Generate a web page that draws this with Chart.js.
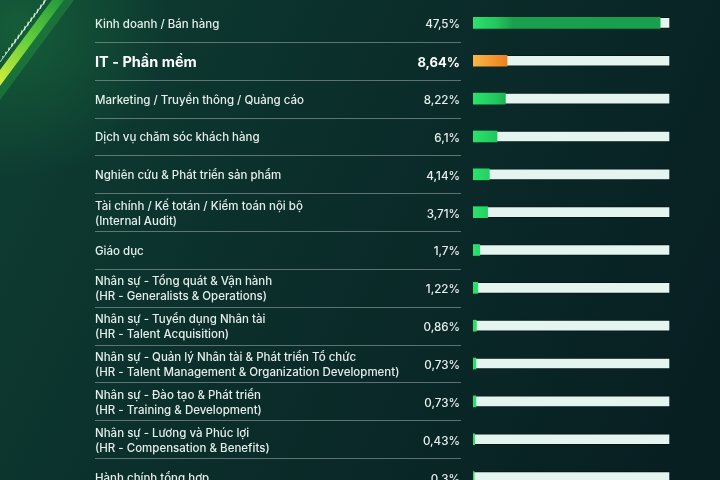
<!DOCTYPE html>
<html>
<head>
<meta charset="utf-8">
<script src="https://cdn.jsdelivr.net/npm/chart.js@4"></script>
<style>
html,body{margin:0;padding:0;width:720px;height:480px;overflow:hidden;background:#0a2623;}
#wrap{position:relative;width:720px;height:500px;}
</style>
</head>
<body>
<div id="wrap"><canvas id="c" width="720" height="500"></canvas></div>
<script>
const categories = [
  ["Kinh doanh / Bán hàng"],
  ["IT - Phần mềm"],
  ["Marketing / Truyền thông / Quảng cáo"],
  ["Dịch vụ chăm sóc khách hàng"],
  ["Nghiên cứu & Phát triển sản phẩm"],
  ["Tài chính / Kế totán / Kiểm toán nội bộ", "(Internal Audit)"],
  ["Giáo dục"],
  ["Nhân sự - Tổng quát & Vận hành", "(HR - Generalists & Operations)"],
  ["Nhân sự - Tuyển dụng Nhân tài", "(HR - Talent Acquisition)"],
  ["Nhân sự - Quản lý Nhân tài & Phát triển Tổ chức", "(HR - Talent Management & Organization Development)"],
  ["Nhân sự - Đào tạo & Phát triển", "(HR - Training & Development)"],
  ["Nhân sự - Lương và Phúc lợi", "(HR - Compensation & Benefits)"],
  ["Hành chính tổng hợp"]
];
const shares = [47.5, 8.64, 8.22, 6.1, 4.14, 3.71, 1.7, 1.22, 0.86, 0.73, 0.73, 0.43, 0.3];
const shareLabels = ["47,5%", "8,64%", "8,22%", "6,1%", "4,14%", "3,71%", "1,7%", "1,22%", "0,86%", "0,73%", "0,73%", "0,43%", "0,3%"];
const highlightIndex = 1;
const scaleMax = 50;
const trackValues = categories.map(() => scaleMax);

const FONT = "Inter, 'Open Sans', sans-serif";

const bgPlugin = {
  id: 'bg',
  beforeDraw(chart) {
    const ctx = chart.ctx, w = chart.width, h = chart.height;
    ctx.save();
    let g = ctx.createLinearGradient(0, 0, w, h * 0.7);
    g.addColorStop(0, '#0e3f33');
    g.addColorStop(0.45, '#0b2e2b');
    g.addColorStop(1, '#081f22');
    ctx.fillStyle = g;
    ctx.fillRect(0, 0, w, h);
    let rg = ctx.createRadialGradient(20, 30, 0, 20, 30, 150);
    rg.addColorStop(0, 'rgba(30,130,65,0.45)');
    rg.addColorStop(1, 'rgba(30,130,65,0)');
    ctx.fillStyle = rg;
    ctx.fillRect(0, 0, 240, 240);
    ctx.beginPath();
    ctx.moveTo(0, 70); ctx.lineTo(52, 0); ctx.lineTo(64, 0); ctx.lineTo(0, 86); ctx.closePath();
    let bg2 = ctx.createLinearGradient(0, 86, 64, 0);
    bg2.addColorStop(0, '#d6ee3c');
    bg2.addColorStop(0.5, '#62cf3b');
    bg2.addColorStop(1, '#23993d');
    ctx.fillStyle = bg2; ctx.fill();
    ctx.beginPath();
    ctx.moveTo(0, 86); ctx.lineTo(64, 0); ctx.lineTo(74, 0); ctx.lineTo(0, 100); ctx.closePath();
    ctx.fillStyle = 'rgba(35,150,65,0.45)'; ctx.fill();
    ctx.fillStyle = 'rgba(220,255,220,0.7)';
    for (let k = 0; k < 5; k++) {
      for (let t = 0; t < 16; t++) {
        const x = 2 + t * 3.2 + k * 3;
        const y = 56 - t * 4.3 - k * 3.5;
        if (x > 0 && y > 0) ctx.fillRect(x, y, 1.4, 1.4);
      }
    }
    ctx.strokeStyle = 'rgba(230,255,230,0.8)';
    ctx.lineWidth = 1;
    ctx.beginPath(); ctx.moveTo(0, 62); ctx.lineTo(46, 0); ctx.stroke();
    ctx.restore();
  }
};

const overlayPlugin = {
  id: 'overlay',
  afterDatasetsDraw(chart) {
    const ctx = chart.ctx;
    const y = chart.scales.y;
    ctx.save();
    ctx.strokeStyle = 'rgba(160,175,172,0.55)';
    ctx.lineWidth = 1;
    for (let i = 0; i < categories.length - 1; i++) {
      const yy = Math.round((y.getPixelForValue(i) + y.getPixelForValue(i + 1)) / 2) + 0.5;
      ctx.beginPath(); ctx.moveTo(95, yy); ctx.lineTo(461, yy); ctx.stroke();
    }
    ctx.textAlign = 'right';
    ctx.textBaseline = 'middle';
    shareLabels.forEach((t, i) => {
      const hl = i === highlightIndex;
      ctx.font = (hl ? '700 13px ' : '500 11.6px ') + FONT;
      ctx.fillStyle = hl ? '#ffffff' : '#e8efed';
      ctx.fillText(t, 460, y.getPixelForValue(i) + 2);
    });
    ctx.restore();
  }
};

new Chart(document.getElementById('c'), {
  type: 'bar',
  data: {
    labels: categories,
    datasets: [
      {
        data: shares,
        grouped: false,
        barThickness: 11,
        borderWidth: 0,
        borderSkipped: false,
        backgroundColor(ctx) {
          const chart = ctx.chart;
          const ca = chart.chartArea;
          if (!ca) return '#22d166';
          const el = ctx.element;
          const x0 = ca.left;
          const x1 = el && el.x > x0 + 2 ? el.x : x0 + 40;
          const g = chart.ctx.createLinearGradient(x0, 0, x1, 0);
          if (ctx.dataIndex === highlightIndex) {
            g.addColorStop(0, '#f8b648');
            g.addColorStop(1, '#ee7618');
          } else {
            g.addColorStop(0, '#2ae26d');
            g.addColorStop(0.6, '#22c65d');
            g.addColorStop(1, '#1a9f4e');
          }
          return g;
        }
      },
      {
        data: trackValues,
        grouped: false,
        barThickness: 11,
        backgroundColor: '#e3f5ee',
        borderColor: 'rgba(0,0,0,0.35)',
        borderWidth: 1,
        borderSkipped: false
      }
    ]
  },
  options: {
    indexAxis: 'y',
    responsive: false,
    animation: false,
    devicePixelRatio: 1,
    layout: { padding: { left: 95, right: 50, top: 4, bottom: 4 } },
    plugins: { legend: { display: false }, tooltip: { enabled: false } },
    scales: {
      x: { type: 'linear', min: 0, max: scaleMax, display: false },
      y: {
        type: 'category',
        offset: true,
        grid: { display: false },
        border: { display: false },
        afterFit(scale) { scale.width = 378; scale.paddingTop = 0; scale.paddingBottom = 0; },
        ticks: {
          crossAlign: 'far',
          autoSkip: false,
          padding: 0,
          labelOffset: 1.5,
          color(ctx) { return ctx.index === highlightIndex ? '#ffffff' : '#e6eeeb'; },
          font(ctx) {
            return ctx.index === highlightIndex
              ? { family: FONT, size: 14.5, weight: '700', lineHeight: 1.25 }
              : { family: FONT, size: 11.5, weight: '500', lineHeight: 1.3 };
          }
        }
      }
    }
  },
  plugins: [bgPlugin, overlayPlugin]
});
</script>
</body>
</html>
